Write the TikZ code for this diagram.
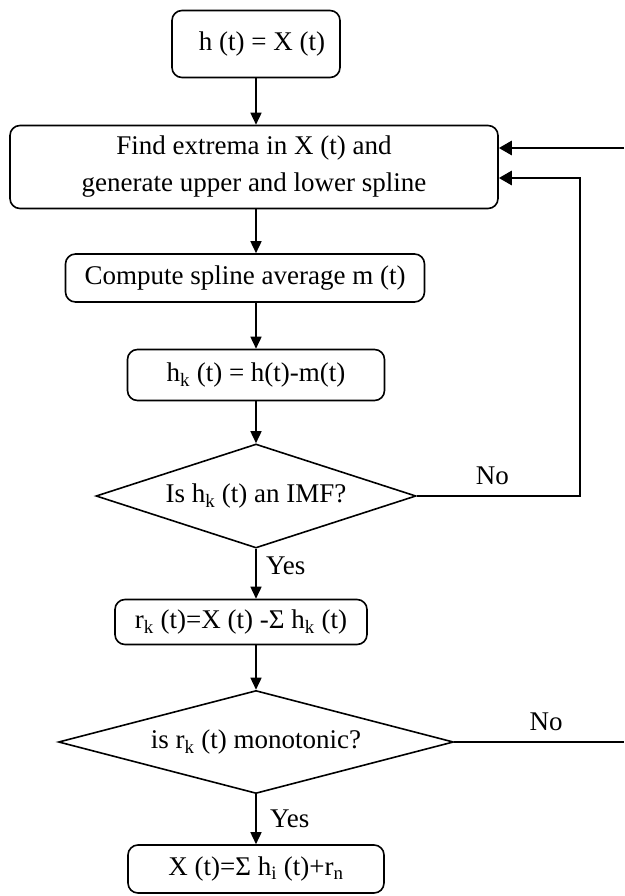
\documentclass[tikz,border=0pt]{standalone}
\usepackage{fontspec}
\setmainfont{Liberation Serif}
\usetikzlibrary{arrows.meta,shapes.geometric}
\def\idx#1{\textsubscript{#1}}
\tikzset{
  stepbox/.style={draw=black,line width=1.6pt,rounded corners=10pt,inner sep=0pt,align=center},
  testbox/.style={draw=black,line width=1.6pt,diamond,inner sep=0pt},
  flow/.style={line width=1.6pt,-{Triangle[length=12pt,width=11pt]}},
  back/.style={line width=2.8pt,-{Triangle[length=13pt,width=14pt]}}
}
\begin{document}
\begin{tikzpicture}[x=1pt,y=-1pt,font=\fontsize{27}{37}\selectfont]
\useasboundingbox (0,0) rectangle (624,896);
\node[stepbox,minimum width=168pt,minimum height=67pt] (init) at (256,44) {\hspace{12pt}h (t) = X (t)};
\node[stepbox,minimum width=488pt,minimum height=83pt] (find) at (254,167) {Find extrema in X (t) and\\generate upper and lower spline};
\node[stepbox,minimum width=359pt,minimum height=48pt] (avg) at (245,278) {Compute spline average m (t)};
\node[stepbox,minimum width=257pt,minimum height=51pt] (diff) at (256,375) {h\idx{k} (t) = h(t)-m(t)};
\node[testbox,aspect=3.1,minimum width=320pt,minimum height=104pt] (isimf) at (256,496) {Is h\idx{k} (t) an IMF?};
\node[stepbox,minimum width=252pt,minimum height=45pt] (resid) at (241,622) {r\idx{k} (t)=X (t) -Σ h\idx{k} (t)};
\node[testbox,aspect=3.8,minimum width=395pt,minimum height=103pt] (ismono) at (256,742) {is r\idx{k} (t) monotonic?};
\node[stepbox,minimum width=256pt,minimum height=48pt] (final) at (256,869) {X (t)=Σ h\idx{i} (t)+r\idx{n}};

\coordinate (turn) at (580,178);
\coordinate (edgetop) at (624,148);
\coordinate (edgebot) at (624,742);

% main line
\draw[flow] (init.south |- init.south) -- (init.south |- find.north);
\draw[flow] (init.south |- find.south) -- (init.south |- avg.north);
\draw[flow] (init.south |- avg.south) -- (diff.north);
\draw[flow] (diff.south) -- (isimf.north);
\draw[flow] (isimf.south) -- node[right,xshift=6pt,yshift=8pt] {Yes} (isimf.south |- resid.north);
\draw[flow] (isimf.south |- resid.south) -- (ismono.north);
\draw[flow] (ismono.south) -- node[right,xshift=10pt] {Yes} (final.north);

% feedback
\draw[back] (isimf.east) -- node[above,xshift=-6pt,yshift=7pt] {No} (isimf.east -| turn) -- (turn) -- (find.east |- turn);
\draw[back] (edgetop) -- (find.east |- edgetop);
\draw[line width=2.8pt] (ismono.east) -- node[above,xshift=7pt,yshift=7pt] {No} (edgebot);
\end{tikzpicture}
\end{document}
